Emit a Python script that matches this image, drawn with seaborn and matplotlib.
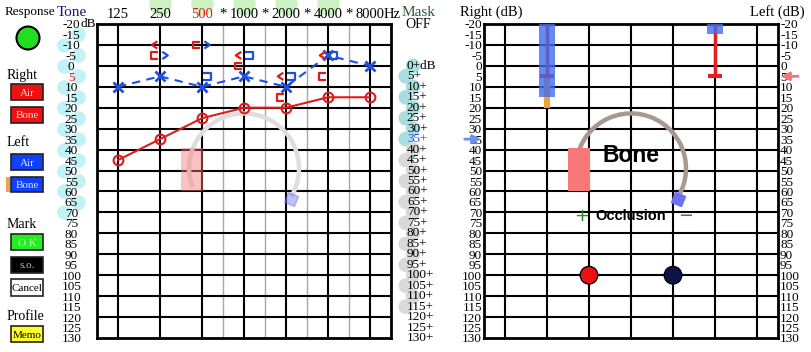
import numpy as np
import seaborn as sns
import matplotlib.pyplot as plt
from matplotlib.path import Path
from matplotlib.patches import Rectangle, Arc, Ellipse
from matplotlib.markers import MarkerStyle
from matplotlib.transforms import Affine2D, ScaledTranslation

sns.set_style('white')
plt.rcParams['font.family'] = ['Liberation Serif', 'DejaVu Serif']
plt.rcParams['text.color'] = 'black'
plt.rcParams['xtick.color'] = 'black'
plt.rcParams['ytick.color'] = 'black'

# ---- data ----
freq_labels = ['125', '250', '500', '1000', '2000', '4000', '8000']
freq_pos = [0, 1, 2, 3, 4, 5, 6]
half_pos = [2.5, 3.5, 4.5, 5.5]

right_air = [45, 35, 25, 20, 20, 15, 15]
left_air = [10, 5, 10, 5, 10, -5, 0]

# bone conduction marks (octave index, dB)
right_bone_x = [1, 3, 4, 5]
right_bone_db = [-10, -5, 5, -5]
right_bone_mask_x = [1, 2, 3, 4, 5]
right_bone_mask_db = [-5, -10, 0, 15, 5]
left_bone_x = [1, 2]
left_bone_db = [-5, -10]
left_bone_mask_x = [2, 3, 4, 5]
left_bone_mask_db = [5, -5, 5, -5]

db_ticks = list(range(-20, 135, 5))
mask_ticks = list(range(0, 135, 5))

# right screen (bone vibrator)
bar_x = [1, 5]
bar_top = [-20, -20]
bar_bottom = [15, -15]
level_x = [1, 5]
level_db = [5, 5]
orange_x = [1]
orange_from = [5]
orange_to = [20]
dot_x = [2, 4]
dot_db = [100, 100]
dot_side = ['Right', 'Left']
right_mark_db = 5
left_mark_db = 35

RED = '#e01b1b'
BLUE = '#1f4fe0'

W, H = 812, 352
fig = plt.figure(figsize=(W / 100, H / 100), dpi=100)


def px_text(x, y, s, **kw):
    fig.text(x / W, 1 - y / H, s, **kw)


def button(x0, y0, x1, y1, face, label, tcolor):
    fig.add_artist(Rectangle((x0 / W, 1 - y1 / H), (x1 - x0) / W, (y1 - y0) / H,
                             facecolor=face, edgecolor='#222222', lw=1.2,
                             transform=fig.transFigure))
    px_text((x0 + x1) / 2, (y0 + y1) / 2 + 1, label, ha='center', va='center',
            color=tcolor, fontsize=8)


ax1 = fig.add_axes([97 / W, 1 - 338 / H, 294 / W, 314 / H])
ax2 = fig.add_axes([484 / W, 1 - 338 / H, 294 / W, 314 / H])

for ax in (ax1, ax2):
    for x in freq_pos:
        ax.axvline(x, color='black', lw=1.5, zorder=1)
    for y in range(-10, 130, 10):
        ax.axhline(y, color='black', lw=1.5, zorder=1)
    for s in ax.spines.values():
        s.set_visible(True)
        s.set_color('black')
        s.set_linewidth(2)
for x in half_pos:
    ax1.axvline(x, color='#a8a8a8', lw=1, zorder=0.9)


def bone_headset(ax, faded):
    tr = fig.dpi_scale_trans + ScaledTranslation(3, 49, ax.transData)
    ax.add_patch(Arc((0, 0), 1.1, 1.1, theta1=-31, theta2=200, transform=tr,
                     color='#dedede' if faded else '#a89890', lw=3.2, zorder=2))
    ax.add_patch(Rectangle((1.5, 39), 0.52, 21, facecolor='#f87878', lw=0,
                           alpha=0.45 if faded else 1, zorder=3))
    ms = MarkerStyle('s', transform=Affine2D().rotate_deg(-25))
    ax.plot([4.13], [63.5], marker=ms, ms=8, color='#6f6ff5', lw=0,
            alpha=0.45 if faded else 1, zorder=3)


bone_headset(ax1, True)
bone_headset(ax2, False)

# ---- left audiogram ----
sns.lineplot(x=freq_pos, y=right_air, ax=ax1, color=RED, lw=1.5, marker='o',
             markersize=7, markerfacecolor='none', markeredgecolor=RED,
             markeredgewidth=1.5, zorder=5)
sns.lineplot(x=freq_pos, y=left_air, ax=ax1, color=BLUE, lw=1.5,
             linestyle=(0, (4, 3)), marker='x', markersize=7,
             markeredgecolor=BLUE, markeredgewidth=2, zorder=5)

mk_lt = Path([(0.45, 0.6), (-0.45, 0), (0.45, -0.6)])
mk_gt = Path([(-0.45, 0.6), (0.45, 0), (-0.45, -0.6)])
mk_lb = Path([(0.5, 0.45), (-0.5, 0.45), (-0.5, -0.45), (0.5, -0.45)])
mk_rb = Path([(-0.5, 0.45), (0.5, 0.45), (0.5, -0.45), (-0.5, -0.45)])
mk_kw = dict(ax=ax1, s=27, facecolor='none', linewidth=1.6, zorder=6, legend=False)
sns.scatterplot(x=np.array(right_bone_x) - 0.13, y=right_bone_db, marker=mk_lt,
                color=RED, edgecolor=RED, **mk_kw)
sns.scatterplot(x=np.array(right_bone_mask_x) - 0.14, y=right_bone_mask_db, marker=mk_lb,
                color=RED, edgecolor=RED, **mk_kw)
sns.scatterplot(x=np.array(left_bone_x) + 0.12, y=left_bone_db, marker=mk_gt,
                color=BLUE, edgecolor=BLUE, **mk_kw)
sns.scatterplot(x=np.array(left_bone_mask_x) + 0.12, y=left_bone_mask_db, marker=mk_rb,
                color=BLUE, edgecolor=BLUE, **mk_kw)

ax1.set_xlim(-0.5, 6.5)
ax1.set_ylim(130, -20)
ax1.xaxis.tick_top()
top_pos = sorted(freq_pos + half_pos)
top_lab = [freq_labels[int(p)] if p == int(p) else '*' for p in top_pos]
ax1.set_xticks(top_pos)
ax1.set_xticklabels(top_lab, fontsize=10.5)
ax1.tick_params(axis='x', length=0, pad=2.5)
for lbl in ax1.get_xticklabels():
    if lbl.get_text() == '500':
        lbl.set_color(RED)
ax1.annotate('Hz', xy=(6, 1), xycoords=ax1.get_xaxis_transform(),
             xytext=(10, 2.5), textcoords='offset points', ha='left', va='bottom',
             fontsize=10.5)

ax1.set_yticks(db_ticks)
ax1.set_yticklabels([str(d) for d in db_ticks], fontsize=9.5)
ax1.tick_params(axis='y', length=0, pad=18.5)
for lbl in ax1.get_yticklabels():
    lbl.set_ha('center')
    if lbl.get_text() == str(right_mark_db):
        lbl.set_color(RED)
ax1.annotate('dB', xy=(0, -20), xycoords=ax1.get_yaxis_transform(),
             xytext=(-12, 0), textcoords='offset points', ha='left', va='center',
             fontsize=9.5)
ax1.set_xlabel('')
ax1.set_ylabel('')

# decorative bubbles behind labels
ytr = ax1.get_yaxis_transform()
cyan_db = [d for d in db_ticks if -15 <= d <= 70]
ax1.scatter([-0.112 if i % 2 else -0.065 for i in range(len(cyan_db))], cyan_db,
            s=110, color='#c2f1f7', lw=0, transform=ytr, clip_on=False, zorder=0.5)
bub_db = [d for d in mask_ticks if d <= 115]
ax1.scatter([1.05 if i % 2 else 1.075 for i in range(len(bub_db))], bub_db, s=110,
            color=['#a9dede' if d <= 35 else '#d9d9d9' for d in bub_db],
            lw=0, transform=ytr, clip_on=False, zorder=0.5)
ax1.scatter(freq_pos[1:6], [1.064] * 5, s=260, color='#ccf2c4', lw=0,
            transform=ax1.get_xaxis_transform(), clip_on=False, zorder=0.5)

for d in mask_ticks:
    ax1.text(1.054, d, ('%d+dB' if d == 0 else '%d+') % d, transform=ytr,
             ha='left', va='center', fontsize=9.5,
             color=BLUE if d == left_mark_db else 'black')

# ---- right screen ----
ax2.vlines(level_x, -20, level_db, color='#e62020', lw=2.5, zorder=3)
sns.scatterplot(x=level_x, y=level_db, ax=ax2, marker='_', s=90, color='#e62020',
                linewidth=3, zorder=3, legend=False)
ax2.vlines(orange_x, orange_from, orange_to, color='#f2a03a', lw=4.5, zorder=2)
ax2.bar(bar_x, np.array(bar_bottom) - np.array(bar_top), bottom=bar_top, width=0.38,
        color='#3f6ef0', alpha=0.8, lw=0, zorder=4)
sns.scatterplot(x=dot_x, y=dot_db, hue=dot_side, ax=ax2, s=160,
                palette={'Right': '#ee1111', 'Left': '#0b1446'},
                edgecolor='black', linewidth=1, zorder=6, legend=False)

ax2.text(3, 43, 'Bone', ha='center', va='center', fontsize=16.5, weight='bold',
         family='Liberation Sans', color='black', zorder=7)
ax2.text(3, 71.5, 'Occlusion', ha='center', va='center', fontsize=10.5, weight='bold',
         family='Liberation Sans', color='black', zorder=7)
ax2.text(1.83, 71.5, '+', ha='center', va='center', fontsize=13, color='#2a8a2a',
         family='DejaVu Sans', zorder=7)
ax2.text(4.3, 71.5, '\u2212', ha='center', va='center', fontsize=13, color='#2a8a2a',
         family='DejaVu Sans', zorder=7)

ytr2 = ax2.get_yaxis_transform()
ax2.annotate('', xy=(1.0, right_mark_db), xycoords=ytr2, xytext=(1.078, right_mark_db),
             textcoords=ytr2, annotation_clip=False,
             arrowprops=dict(arrowstyle='-|>', color='#f07878', lw=2, mutation_scale=12))
ax2.annotate('', xy=(0.0, left_mark_db), xycoords=ytr2, xytext=(-0.075, left_mark_db),
             textcoords=ytr2, annotation_clip=False,
             arrowprops=dict(arrowstyle='-|>', color='#6f8ff0', lw=2, mutation_scale=12))

ax2.set_xlim(-0.5, 6.5)
ax2.set_ylim(130, -20)
ax2.set_xticks([])
ax2.set_yticks(db_ticks)
ax2.set_yticklabels([str(d) for d in db_ticks], fontsize=9.5)
ax2.tick_params(axis='y', length=0, pad=1.5, left=True, right=True,
                labelleft=True, labelright=True)
ax2.set_xlabel('')
ax2.set_ylabel('')

# ---- header texts ----
px_text(57, 12, 'Tone', ha='left', va='center', fontsize=11, color='#141478')
px_text(402, 12, 'Mask', ha='left', va='center', fontsize=11, color='#2a5a3a')
px_text(405, 25, 'OFF', ha='left', va='center', fontsize=10)
px_text(460, 12, 'Right (dB)', ha='left', va='center', fontsize=10.5)
px_text(805, 12, 'Left (dB)', ha='right', va='center', fontsize=10.5)

# ---- control panel ----
px_text(5, 12, 'Response', ha='left', va='center', fontsize=9.5)
fig.add_artist(Ellipse((28 / W, 1 - 38 / H), 23 / W, 23 / H, facecolor='#22dd22',
                       edgecolor='black', lw=1.5, transform=fig.transFigure))
px_text(7, 75, 'Right', ha='left', va='center', fontsize=10)
button(11, 84, 43, 100, '#ee1111', 'Air', '#ffd6d6')
button(11, 107, 43, 123, '#ee1111', 'Bone', '#ffd6d6')
px_text(7, 143, 'Left', ha='left', va='center', fontsize=10)
button(11, 154, 43, 170, '#1040f8', 'Air', '#d8e2ff')
fig.add_artist(Rectangle((6 / W, 1 - 192 / H), 4 / W, 15 / H, facecolor='#f0a050',
                         lw=0, transform=fig.transFigure))
button(11, 177, 43, 192, '#1040f8', 'Bone', '#d8e2ff')
px_text(7, 224, 'Mark', ha='left', va='center', fontsize=10)
button(11, 234, 43, 250, '#22ee22', 'O K', '#b8ffb8')
button(11, 257, 43, 273, 'black', 's.o.', '#bbbbbb')
button(11, 279, 43, 296, 'white', 'Cancel', 'black')
px_text(7, 317, 'Profile', ha='left', va='center', fontsize=10)
button(11, 326, 43, 342, '#ffff22', 'Memo', 'black')

fig.savefig('out.png', dpi=100)
